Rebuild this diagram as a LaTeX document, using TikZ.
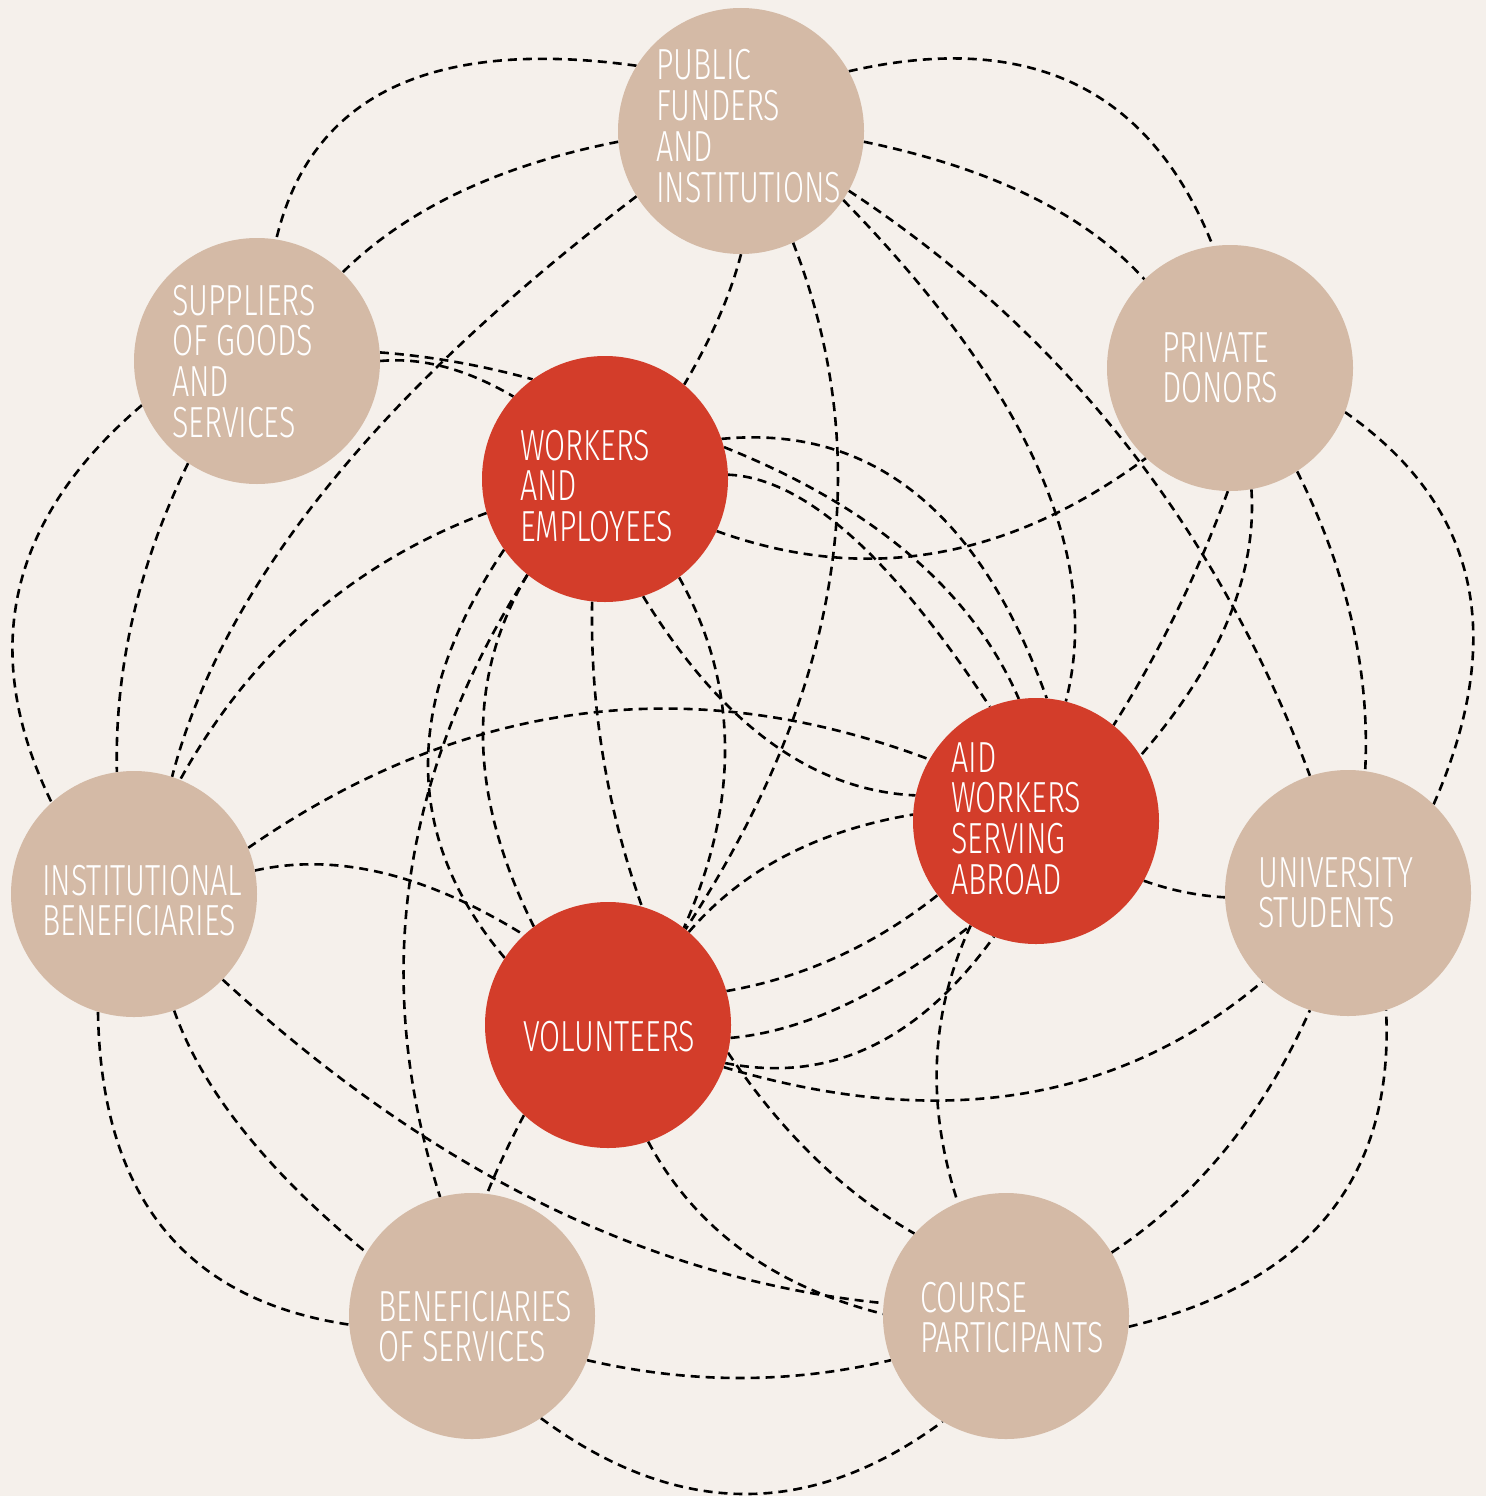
\documentclass[tikz,border=0pt]{standalone}
\usepackage{fontspec}
\setmainfont{Fira Sans Light}[FakeStretch=0.70]
\usetikzlibrary{calc}
\definecolor{bgc}{RGB}{245,240,235}
\definecolor{tanc}{RGB}{212,186,166}
\definecolor{redc}{RGB}{211,61,42}
\pgfdeclarelayer{bgl}
\pgfdeclarelayer{edges}
\pgfsetlayers{bgl,edges,main}
\newcommand\qlink[3]{\draw[lnk] (#1) .. controls ($1.3333*(#2)-0.3333*(#3)$) and ($1.3333*(#2)-0.3333*(#1)$) .. (#3);}
\newcommand\ctext[4]{\foreach \w [count=\i from 0] in {#4} {\node[lbl] (#1-\i) at (#2,#3+40.8*\i) {\w};}}
\begin{document}
\begin{tikzpicture}[x=1pt,y=-1pt,
  lnk/.style={draw=black,line width=2.6pt,dash pattern=on 9pt off 6pt},
  lbl/.style={text=white,inner sep=0pt,anchor=base west,font=\fontsize{43.5}{41}\selectfont},
  tannode/.style={circle,fill=tanc,minimum size=246pt,inner sep=0pt},
  rednode/.style={circle,fill=redc,minimum size=246pt,inner sep=0pt}]
\useasboundingbox (0,0) rectangle (1486,1496);
\begin{pgfonlayer}{bgl}
\fill[bgc] (0,0) rectangle (1486,1496);
\end{pgfonlayer}
% nodes
\node[tannode] (PF) at (741,131) {};
\node[tannode] (SU) at (257,361) {};
\node[tannode] (PD) at (1230,368) {};
\node[rednode] (WE) at (605,479) {};
\node[rednode] (AW) at (1036,821) {};
\node[tannode] (IB) at (134,894) {};
\node[tannode] (US) at (1348,893) {};
\node[rednode] (VO) at (608,1025) {};
\node[tannode] (BS) at (472,1316) {};
\node[tannode] (CP) at (1006,1316) {};
% texts
\ctext{PFt}{656}{80}{PUBLIC,FUNDERS,AND,INSTITUTIONS}
\ctext{SUt}{172}{315}{SUPPLIERS,OF GOODS,AND,SERVICES}
\ctext{PDt}{1162}{362}{PRIVATE,DONORS}
\ctext{WEt}{520}{460}{WORKERS,AND,EMPLOYEES}
\ctext{AWt}{951}{772}{AID,WORKERS,SERVING,ABROAD}
\ctext{IBt}{42}{895}{INSTITUTIONAL,BENEFICIARIES}
\ctext{USt}{1258}{887}{UNIVERSITY,STUDENTS}
\ctext{VOt}{523}{1051}{VOLUNTEERS}
\ctext{BSt}{378}{1321}{BENEFICIARIES,OF SERVICES}
\ctext{CPt}{920}{1312}{COURSE,PARTICIPANTS}
% connectors
\begin{pgfonlayer}{edges}
\qlink{PF.148}{392,88}{SU.81}
\qlink{PF.29}{1075,84}{PD.98}
\qlink{SU.201}{19,590}{IB.132}
\qlink{IB.253}{163,1228}{BS.184}
\qlink{BS.-56}{743,1494}{CP.-121}
\qlink{CP.-5}{1328,1215}{US.-72}
\qlink{US.46}{1467,580}{PD.-21}
\qlink{PF.185}{460,192}{SU.46}
\qlink{PF.212}{325,490}{IB.72}
\qlink{PF.270}{719,317}{WE.50}
\qlink{PF.-65}{830,578}{VO.51}
\qlink{PF.-5}{1030,196}{PD.134}
\qlink{PF.-29}{1125,443}{US.108}
\qlink{PF.-34}{1038,468}{AW.76}
\qlink{SU.4}{456,362}{WE.126}
\qlink{SU.0}{445,367}{WE.138}
\qlink{SU.236}{133,617}{IB.98}
\qlink{WE.196}{310,617}{IB.68}
\qlink{WE.215}{428,765}{VO.147}
\qlink{WE.231}{410,880}{BS.105}
\qlink{WE.231}{483,740}{VO.127}
\qlink{WE.264}{603,756}{VO.74}
\qlink{WE.-53}{725,745}{VO.52}
\qlink{WE.-72}{770,742}{AW.168}
\qlink{WE.19}{915,493}{AW.85}
\qlink{WE.15}{910,555}{AW.98}
\qlink{WE.2}{850,535}{AW.112}
\qlink{WE.-25}{935,553}{PD.227}
\qlink{PD.269}{1176,613}{AW.51}
\qlink{PD.-80}{1228,620}{AW.32}
\qlink{PD.-57}{1352,622}{US.82}
\qlink{AW.-29}{1184,892}{US.182}
\qlink{IB.22}{580,714}{AW.150}
\qlink{IB.11}{383,873}{VO.133}
\qlink{IB.-71}{243,1130}{BS.149}
\qlink{IB.-44}{545,1205}{CP.174}
\qlink{VO.227}{504,1155}{BS.83}
\qlink{VO.-71}{742,1250}{CP.179}
\qlink{VO.-13}{815,1158}{CP.138}
\qlink{AW.238}{937,1060}{CP.113}
\qlink{VO.49}{785,856}{AW.177}
\qlink{VO.16}{837,957}{AW.217}
\qlink{VO.-6}{845,1005}{AW.238}
\qlink{VO.-18}{870,1047}{AW.250}
\qlink{VO.-20}{1020,1094}{US.226}
\qlink{CP.31}{1225,1150}{US.252}
\qlink{BS.-21}{740,1378}{CP.201}
\end{pgfonlayer}
\end{tikzpicture}
\end{document}
